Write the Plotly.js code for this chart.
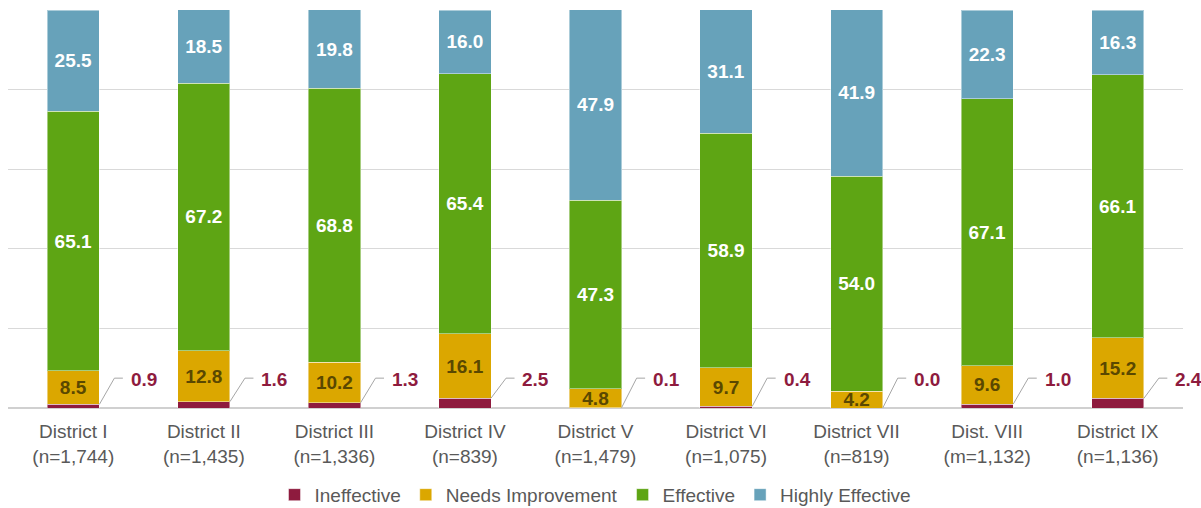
<!DOCTYPE html>
<html><head><meta charset="utf-8">
<script src="https://cdn.plot.ly/plotly-3.0.1.min.js"></script>
<style>html,body{margin:0;padding:0;background:#fff}#chart{width:1201px;height:508px}</style>
</head><body><div id="chart"></div>
<script>
const categories = ["District I<br>(n=1,744)","District II<br>(n=1,435)","District III<br>(n=1,336)","District IV<br>(n=839)","District V<br>(n=1,479)","District VI<br>(n=1,075)","District VII<br>(n=819)","Dist. VIII<br>(m=1,132)","District IX<br>(n=1,136)"];
const ineffective = [0.9,1.6,1.3,2.5,0.1,0.4,0.0,1.0,2.4];
const needsImprovement = [8.5,12.8,10.2,16.1,4.8,9.7,4.2,9.6,15.2];
const effective = [65.1,67.2,68.8,65.4,47.3,58.9,54.0,67.1,66.1];
const highlyEffective = [25.5,18.5,19.8,16.0,47.9,31.1,41.9,22.3,16.3];

const xs = categories.map((_, i) => i);
const FONT = '"Liberation Sans", Arial, sans-serif';
const segLine = {color:'rgba(255,255,255,0.45)', width:1};

function barTrace(name, vals, color, textColor, showText){
  return {
    type:'bar', name:name, x:xs, y:vals,
    marker:{color:color, line:segLine},
    text: showText ? vals.map(v => v.toFixed(1)) : undefined,
    textposition: showText ? 'inside' : 'none',
    insidetextanchor:'middle',
    constraintext:'none',
    textfont:{family:FONT, size:19, color:textColor, weight:'bold'},
    hoverinfo:'skip'
  };
}

const data = [
  barTrace('Ineffective', ineffective, '#8E1B3E', '#fff', false),
  barTrace('Needs Improvement', needsImprovement, '#DBA700', '#5a4800', true),
  barTrace('Effective', effective, '#5EA514', '#fff', true),
  barTrace('Highly Effective', highlyEffective, '#67A2BA', '#fff', true)
];

const shapes = [];
const annotations = [];
ineffective.forEach((v, i) => {
  shapes.push({
    type:'path', xref:'x', yref:'y',
    path:`M ${i+0.2},${v} L ${i+0.315},7.5 L ${i+0.38},7.5`,
    line:{color:'#a6a6a6', width:1}
  });
  annotations.push({
    x:i+0.425, y:7.2, xref:'x', yref:'y', xanchor:'left', yanchor:'middle',
    text:v.toFixed(1), showarrow:false,
    font:{family:FONT, size:19, color:'#8E1B3E', weight:'bold'}
  });
});

const layout = {
  width:1201, height:508,
  margin:{l:8, r:18, t:10, b:100, autoexpand:false},
  paper_bgcolor:'#fff', plot_bgcolor:'#fff',
  barmode:'stack', bargap:0.6,
  font:{family:FONT, color:'#595959', size:19},
  xaxis:{range:[-0.5,8.5], tickvals:xs, ticktext:categories, showgrid:false, zeroline:false,
         showline:false, ticks:'', ticklabelstandoff:10, automargin:false,
         tickfont:{family:FONT, size:19, color:'#595959'}, fixedrange:true},
  yaxis:{range:[0,100], dtick:20, showticklabels:false, showgrid:true, gridcolor:'#d9d9d9', gridwidth:1,
         zeroline:true, zerolinecolor:'#d0d0d0', zerolinewidth:1.5, ticks:'', fixedrange:true, automargin:false},
  showlegend:true,
  legend:{orientation:'h', x:0.5, xanchor:'center', xref:'paper', y:0.026, yref:'container', yanchor:'middle',
          font:{family:FONT, size:19, color:'#595959'}, traceorder:'normal'},
  shapes:shapes, annotations:annotations,
  hovermode:false
};

Plotly.newPlot('chart', data, layout, {staticPlot:true, displayModeBar:false});
</script></body></html>
